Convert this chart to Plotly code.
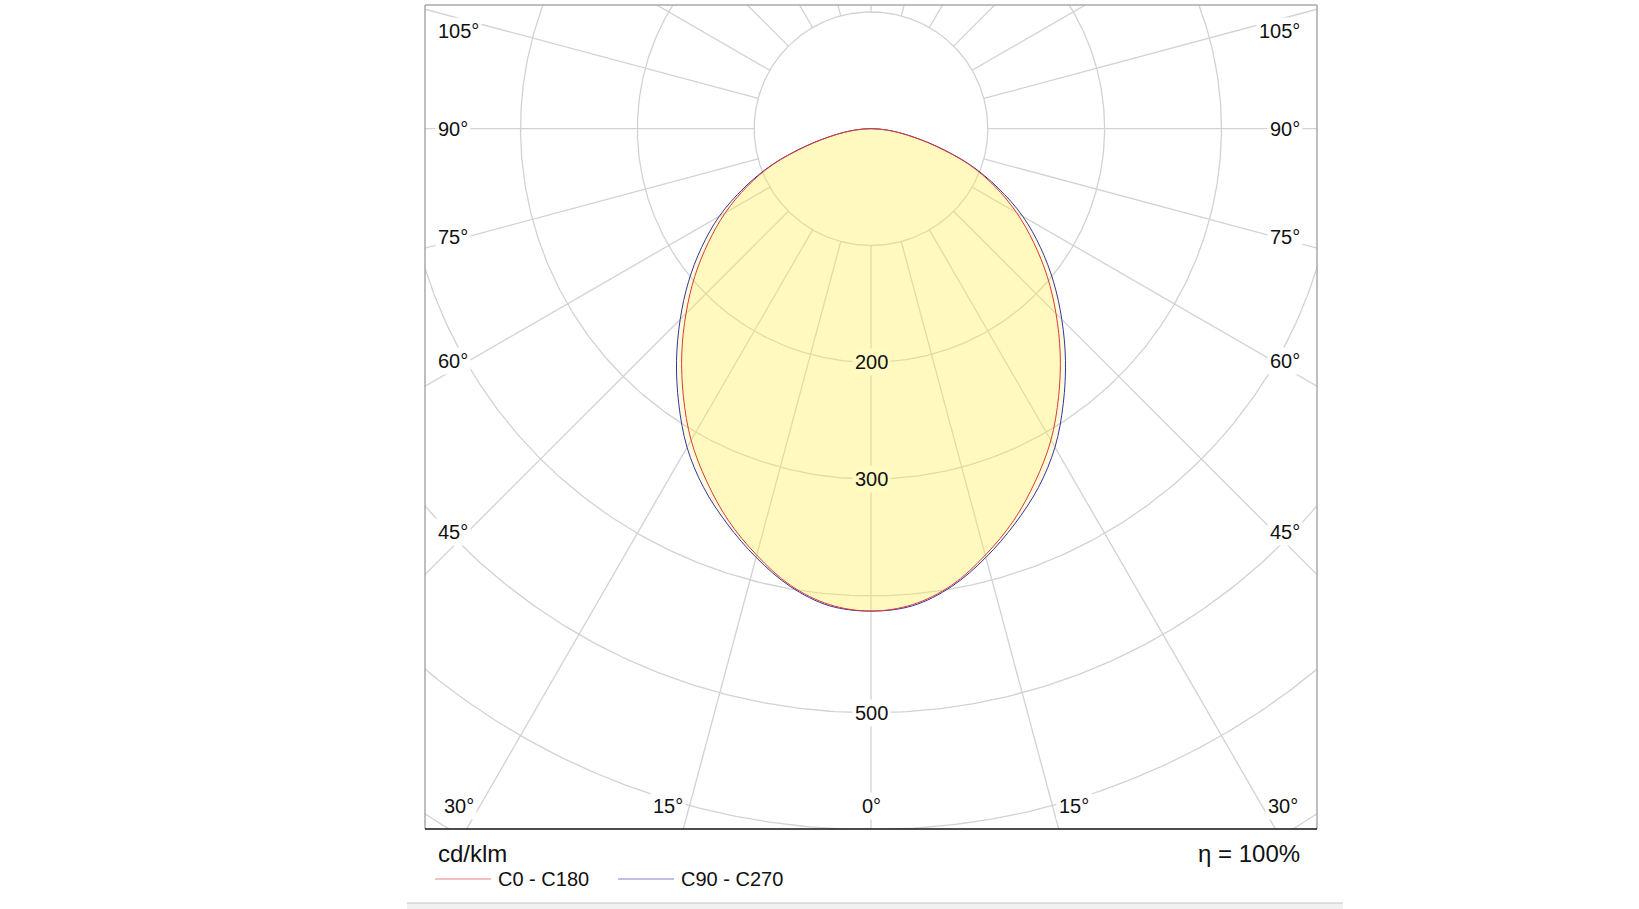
import numpy as np
import plotly.graph_objects as go

# ---------------- data (cd/klm) ----------------
gamma_deg = [0, 5, 10, 15, 20, 25, 30, 35, 40, 45, 50, 55, 60, 65, 70, 75, 80, 85, 90]
c0_c180 = [413, 409, 397, 378, 357, 333, 308, 280, 252, 224, 197, 170, 144, 117, 89, 57, 32, 14, 0]
c90_c270 = [413, 410, 398, 380, 360, 339, 315, 287, 259, 231, 204, 177, 150, 120, 90, 58, 32, 14, 0]
series_names = ["C0 - C180", "C90 - C270"]
series_colors = ["#D83A3A", "#3434A8"]

grid_radii = [100, 200, 300, 400, 500, 600, 700]
radial_angles = list(range(0, 360, 15))
angle_labels = [0, 15, 30, 45, 60, 75, 90, 105]
value_labels = [200, 300, 500]
unit_label = "cd/klm"
efficiency_label = "η = 100%"

# ---------------- geometry / style ----------------
W, H = 1639, 909
ML, MR, MT, MB = 425, 322, 5, 80
PW, PH = W - ML - MR, H - MT - MB
X_RANGE = [-381.8, 381.8]
Y_RANGE = [-599.6, 105.9]
GRID_COLOR = "#D2D2D2"
FONT = "Liberation Sans, Arial, sans-serif"
FILL = "rgba(255,240,80,0.2)"
FILL_DOUBLE = "rgb(255,250,193)"


def px(x):  # figure pixel -> paper x
    return (x - ML) / PW


def py(y):  # figure pixel -> paper y
    return (H - MB - y) / PH


fig = go.Figure()

# grid circles
t = np.linspace(0, 2 * np.pi, 721)
gx, gy = [], []
for r in grid_radii:
    gx += list(r * np.cos(t)) + [None]
    gy += list(r * np.sin(t)) + [None]
fig.add_trace(go.Scatter(x=gx, y=gy, mode="lines", hoverinfo="skip", showlegend=False,
                         line=dict(color=GRID_COLOR, width=1.3)))

# radial lines (angle measured from nadir)
rx, ry = [], []
r_in, r_out = grid_radii[0], 1000
for a in radial_angles:
    ar = np.radians(a)
    rx += [r_in * np.sin(ar), r_out * np.sin(ar), None]
    ry += [-r_in * np.cos(ar), -r_out * np.cos(ar), None]
fig.add_trace(go.Scatter(x=rx, y=ry, mode="lines", hoverinfo="skip", showlegend=False,
                         line=dict(color=GRID_COLOR, width=1.3)))


def curve(vals):
    g = np.array(gamma_deg, dtype=float)
    v = np.array(vals, dtype=float)
    th = np.concatenate([-g[::-1], g[1:]])
    rr = np.concatenate([v[::-1], v[1:]])
    thr = np.radians(th)
    return rr * np.sin(thr), -rr * np.cos(thr)


for vals, name, col in [(c90_c270, series_names[1], series_colors[1]),
                        (c0_c180, series_names[0], series_colors[0])]:
    cx, cy = curve(vals)
    fig.add_trace(go.Scatter(x=cx, y=cy, mode="lines", name=name, fill="toself",
                             fillcolor=FILL, line=dict(color=col, width=1, shape="spline", smoothing=1.0),
                             showlegend=False))

annotations = []
# angle labels
INSET_X = 345
BOTTOM_Y = -580
TOP_Y = 83.6
for a in angle_labels:
    for side in ([-1, 1] if a != 0 else [0]):
        ar = np.radians(a)
        if a == 0:
            annotations.append(dict(x=0, y=BOTTOM_Y, xref="x", yref="y", text=f"{a}°",
                                    xanchor="center", yanchor="middle"))
            continue
        y_side = -INSET_X / np.tan(ar)
        if y_side < BOTTOM_Y:
            xb = side * (-BOTTOM_Y) * np.tan(ar)
            annotations.append(dict(x=xb, y=BOTTOM_Y, xref="x", yref="y", text=f"{a}°",
                                    xanchor="right" if side < 0 else "left",
                                    xshift=-3 if side < 0 else 3, yanchor="middle"))
        else:
            yv = min(y_side, TOP_Y)
            annotations.append(dict(x=px(435) if side < 0 else px(1303), y=yv, xref="paper", yref="y",
                                    text=f"{a}°", xanchor="left" if side < 0 else "right",
                                    yanchor="middle"))
for ann in annotations:
    ann.update(showarrow=False, bgcolor="white", borderpad=2,
               font=dict(family=FONT, size=20, color="#111111"))

# value labels along the 0° axis
for v in value_labels:
    inside = v < min(c0_c180[0], c90_c270[0])
    annotations.append(dict(x=0, y=-v, xref="x", yref="y", text=str(v), showarrow=False,
                            xanchor="center", yanchor="middle", borderpad=2,
                            bgcolor=FILL_DOUBLE if inside else "white",
                            font=dict(family=FONT, size=20, color="#111111")))

# unit, efficiency, legend
annotations += [
    dict(x=px(436), y=py(853), xref="paper", yref="paper", text=unit_label, showarrow=False,
         xanchor="left", yanchor="middle", font=dict(family=FONT, size=24, color="#111111")),
    dict(x=px(1302), y=py(853), xref="paper", yref="paper", text=efficiency_label, showarrow=False,
         xanchor="right", yanchor="middle", font=dict(family=FONT, size=24, color="#111111")),
    dict(x=px(496), y=py(879), xref="paper", yref="paper", text=series_names[0], showarrow=False,
         xanchor="left", yanchor="middle", font=dict(family=FONT, size=20, color="#111111")),
    dict(x=px(679), y=py(879), xref="paper", yref="paper", text=series_names[1], showarrow=False,
         xanchor="left", yanchor="middle", font=dict(family=FONT, size=20, color="#111111")),
]

shapes = [
    # legend samples
    dict(type="line", xref="paper", yref="paper", x0=px(435), x1=px(491), y0=py(879), y1=py(879),
         line=dict(color="#EE8080", width=1.2)),
    dict(type="line", xref="paper", yref="paper", x0=px(618), x1=px(674), y0=py(879), y1=py(879),
         line=dict(color="#8080DD", width=1.2)),
    # frame
    dict(type="line", xref="paper", yref="paper", x0=0, x1=0, y0=0, y1=1, line=dict(color="#A8A8A8", width=1.5)),
    dict(type="line", xref="paper", yref="paper", x0=1, x1=1, y0=0, y1=1, line=dict(color="#A8A8A8", width=1.5)),
    dict(type="line", xref="paper", yref="paper", x0=0, x1=1, y0=1, y1=1, line=dict(color="#A8A8A8", width=1.5)),
    dict(type="line", xref="paper", yref="paper", x0=0, x1=1, y0=0, y1=0, line=dict(color="#111111", width=1.5)),
    # bottom band
    dict(type="rect", xref="paper", yref="paper", x0=px(407), x1=px(1343), y0=py(910), y1=py(903),
         fillcolor="#F1F1F1", line=dict(width=0)),
    dict(type="line", xref="paper", yref="paper", x0=px(407), x1=px(1343), y0=py(903), y1=py(903),
         line=dict(color="#C4C4C4", width=1.2)),
]

fig.update_layout(
    width=W, height=H, margin=dict(l=ML, r=MR, t=MT, b=MB, pad=0),
    paper_bgcolor="white", plot_bgcolor="white",
    xaxis=dict(range=X_RANGE, visible=False, fixedrange=True),
    yaxis=dict(range=Y_RANGE, visible=False, fixedrange=True),
    annotations=annotations, shapes=shapes, showlegend=False,
)

fig.write_html("out.html", config={"displayModeBar": False},
               post_script="document.body.style.margin='0';document.body.style.overflow='hidden';")
